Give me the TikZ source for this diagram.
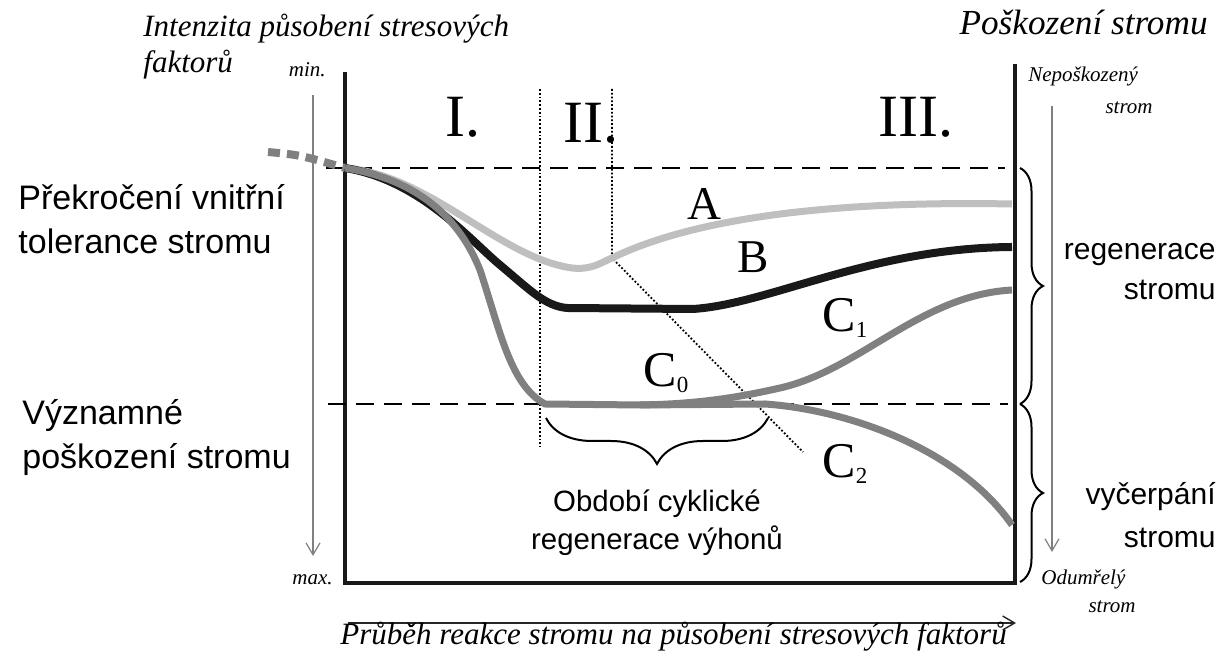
\documentclass[tikz,border=0pt]{standalone}
\usepackage{fontspec}
\setmainfont{Liberation Serif}
\setsansfont{Liberation Sans}
\usetikzlibrary{arrows.meta,decorations.pathreplacing}
\newcommand{\csub}[1]{C\raisebox{-3pt}{\fontsize{11.5}{12}\selectfont #1}}

\begin{document}
\begin{tikzpicture}[x=.5pt,y=-.5pt,
  barb/.style={-{Straight Barb[length=6pt,width=7pt]}},
  itl/.style={font=\fontsize{#1}{18}\selectfont\itshape,inner sep=0},
  itsm/.style={font=\fontsize{10.5}{13}\selectfont\itshape,inner sep=0},
  sans/.style={font=\fontsize{#1}{22}\selectfont\sffamily,inner sep=0},
  big/.style={font=\fontsize{#1}{#1}\selectfont,inner sep=0,anchor=base west},
  curveA/.style={black!25,line width=3.5pt},
  curveB/.style={black!90,line width=4pt},
  curveC/.style={black!50,line width=3.5pt}]
 \useasboundingbox (0,0) rectangle (1227,656);
 % frame and axes
 \draw[line width=1.6pt,black!90] (345,72) |- (1015,583) -- (1015,64);
 \draw[gray,line width=.6pt,barb] (313,95) -- (313,556);
 \draw[gray,line width=.6pt,barb] (1052,106) -- (1052,552);
 \draw[black!85,line width=.7pt,barb] (348,623) -- (1016,623);
 \draw[dashed,dash pattern=on 9pt off 5pt,line width=.8pt] (326,168) -- (1005,168);
 \draw[dashed,dash pattern=on 9pt off 5pt,line width=.8pt] (328,404) -- (1008,404);
 \draw[densely dotted,line width=.9pt] (540,89) -- (540,447);
 \draw[densely dotted,line width=.9pt] (612,89) -- (612,258) -- (803,452);
 % curves
 \draw[black!50,line width=4pt,dash pattern=on 6pt off 3.5pt] (268,152) .. controls (300,155) .. (345,168);
 \draw[curveA] (345,168) .. controls (430,175) and (500,258) .. (572,268) .. controls (592,270) and (600,263) .. (612,258) .. controls (680,225) and (800,200) .. (1012,204);
 \draw[curveB] (345,168) .. controls (420,180) and (470,240) .. (500,265) .. controls (530,290) and (545,306) .. (567,308) -- (693,309) .. controls (770,304) and (870,248) .. (1012,247);
 \draw[curveC] (640,405) -- (765,404) .. controls (850,410) and (960,450) .. (1012,525);
 \draw[curveC] (345,168) .. controls (420,180) and (460,220) .. (480,270) .. controls (500,330) and (510,385) .. (545,404) -- (640,405) .. controls (700,404) and (740,397) .. (780,388) .. controls (860,370) and (920,295) .. (1012,290);
 % braces
 \draw[decorate,decoration={brace,amplitude=23pt},line width=1pt] (768,418) -- (546,418);
 \draw[decorate,decoration={brace,amplitude=11.5pt},line width=1pt] (1020,168) -- (1020,404);
 \draw[decorate,decoration={brace,amplitude=11.5pt},line width=1pt] (1020,404) -- (1020,582);
 % texts
 \foreach \x/\y/\s/\a/\t/\n in
  {143/37/15.5/base west/Intenzita působení stresových/int1,143/73/15.5/base west/faktorů/int2,1208/35/17.6/base east/Poškození stromu/pos,340/645/15.5/base west/Průběh reakce stromu na působení stresových faktorů/prub}
  \node[itl=\s,anchor=\a] (\n) at (\x,\y) {\t};
 \foreach \x/\y/\a/\t/\n in
  {326/77/base east/min./min,333/585/base east/max./max,1028/82/base west/Nepoškozený/nep,1153/114/base east/strom/nep2,1041/585/base west/Odumřelý/odu,1136/613/base east/strom/odu2}
  \node[itsm,anchor=\a] (\n) at (\x,\y) {\t};
 \foreach \x/\y/\s/\a/\t/\n in
  {18/210/17/base west/Překročení vnitřní/pr1,18/254/17/base west/tolerance stromu/pr2,22/425/17/base west/Významné/vy1,22/469/17/base west/poškození stromu/vy2,1216/260/15/base east/regenerace/reg1,1216/300/15/base east/stromu/reg2,1216/505/15/base east/vyčerpání/vyc1,1216/548/15/base east/stromu/vyc2,657/512/14.7/base/Období cyklické/obd1,657/550/14.7/base/regenerace výhonů/obd2}
  \node[sans=\s,anchor=\a] (\n) at (\x,\y) {\t};
 \node[big=30] (r1) at (445,137) {I.};
 \node[big=30] (r2) at (563,143) {II.};
 \node[big=30] (r3) at (878,137) {III.};
 \node[big=23.5] (ca) at (687,220) {A};
 \node[big=23.5] (cb) at (737,273) {B};
 \node[big=25] (c0) at (643,387) {\csub{0}};
 \node[big=25] (c1) at (822,332) {\csub{1}};
 \node[big=25] (c2) at (822,478) {\csub{2}};
\end{tikzpicture}
\end{document}
